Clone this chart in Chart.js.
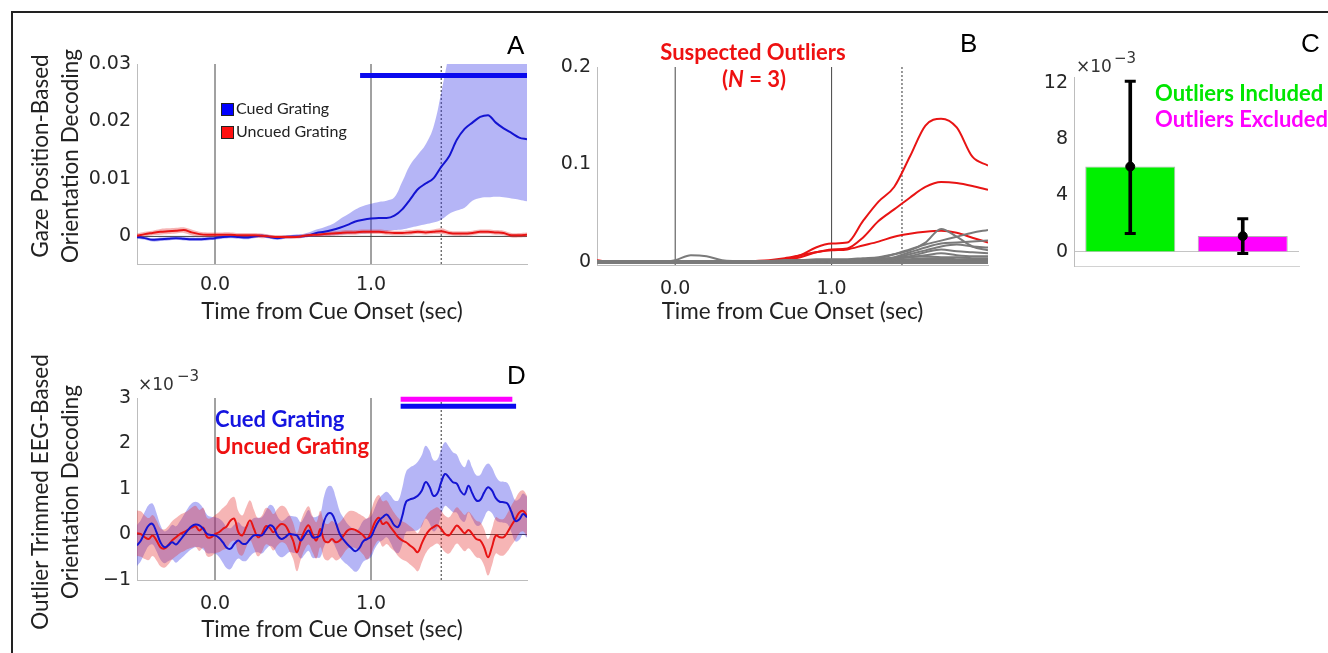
<!DOCTYPE html>
<html lang="en">
<head>
<meta charset="UTF-8" />
<title>Gaze and EEG orientation decoding</title>
<script src="https://cdn.jsdelivr.net/npm/chart.js@4.4.1/dist/chart.umd.min.js"></script>
<style>
  body { margin: 0; background: #fff; width: 1328px; height: 653px; overflow: hidden; position: relative; font-family: Lato, sans-serif; }
  .frame { position: absolute; left: 11px; top: 11px; width: 1330px; height: 660px; border: 2px solid #222; }
  canvas { position: absolute; }
  .txt { position: absolute; white-space: nowrap; line-height: 1; }
  .letter { font-family: 'Liberation Sans', Arial, sans-serif; font-size: 26px; color: #000; }
  .exp { font-family: 'DejaVu Sans', sans-serif; color: #333; }
  .bold { font-weight: 700; font-size: 22px; }
  .sq { position: absolute; width: 11px; height: 11px; border: 1px solid #222; }
  .small { font-size: 16px; color: #222; }
  .ytitle { position: absolute; width: 320px; height: 60px; line-height: 30px; text-align: center;
            font-size: 22.5px; color: #222; white-space: nowrap; transform: rotate(-90deg); }
</style>
</head>
<body>
<div class="frame"></div>

<canvas id="chartA" width="520" height="300" style="left:20px;top:30px"></canvas>
<canvas id="chartB" width="470" height="300" style="left:540px;top:30px"></canvas>
<canvas id="chartC" width="318" height="300" style="left:1010px;top:30px"></canvas>
<canvas id="chartD" width="520" height="293" style="left:20px;top:360px"></canvas>

<!-- y axis titles (two lines, rotated) -->
<div class="ytitle" style="left:-105px;top:126px">Gaze Position-Based<br>Orientation Decoding</div>
<div class="ytitle" style="left:-105px;top:462px">Outlier Trimmed EEG-Based<br>Orientation Decoding</div>

<!-- panel letters -->
<div class="txt letter" style="left:507px;top:32px">A</div>
<div class="txt letter" style="left:960px;top:30px">B</div>
<div class="txt letter" style="left:1301px;top:30px">C</div>
<div class="txt letter" style="left:507px;top:362px">D</div>

<!-- A legend -->
<div class="sq" style="left:221px;top:103px;background:#0000ff"></div>
<div class="txt small" style="left:236px;top:100px">Cued Grating</div>
<div class="sq" style="left:221px;top:126px;background:#ff1010"></div>
<div class="txt small" style="left:236px;top:123px">Uncued Grating</div>

<!-- B title -->
<div class="txt bold" style="left:653px;width:200px;text-align:center;top:41px;color:#ee1111">Suspected Outliers</div>
<div class="txt bold" style="left:654px;width:200px;text-align:center;top:68px;color:#ee1111">(<i>N</i> = 3)</div>

<!-- C exponent + legend -->
<div class="txt exp" style="left:1076px;top:58px;font-size:17px">&times;10</div>
<div class="txt exp" style="left:1114px;top:51px;font-size:15px">&minus;3</div>
<div class="txt bold" style="left:1155px;top:82px;color:#00e600">Outliers Included</div>
<div class="txt bold" style="left:1155px;top:108px;color:#ff00ff">Outliers Excluded</div>

<!-- D exponent + legend -->
<div class="txt exp" style="left:138px;top:376px;font-size:17px">&times;10</div>
<div class="txt exp" style="left:177px;top:369px;font-size:15px">&minus;3</div>
<div class="txt bold" style="left:215px;top:408px;color:#1414e0">Cued Grating</div>
<div class="txt bold" style="left:215px;top:435px;color:#ee1111">Uncued Grating</div>

<script>
// ---------- shared time axis ----------
const xRange = [-0.5, 2.0];
const xTickVals = [0, 1];
const cueLines = [0, 1];
const probeTime = 1.45;
const xTitle = 'Time from Cue Onset (sec)';

// ---------- A: gaze position based decoding ----------
const timeA = [-0.5,-0.45,-0.4,-0.35,-0.3,-0.25,-0.2,-0.15,-0.1,-0.05,0,0.05,0.1,0.15,0.2,0.25,0.3,0.35,0.4,0.45,
  0.5,0.55,0.6,0.65,0.7,0.75,0.8,0.85,0.9,0.95,1,1.05,1.1,1.15,1.2,1.25,1.3,1.35,1.4,1.45,
  1.5,1.55,1.6,1.65,1.7,1.75,1.8,1.85,1.9,1.95,2];
const cuedA = [-0.0001,-0.0003,-0.0006,-0.0005,-0.0004,-0.0003,-0.0004,-0.0005,-0.0005,-0.0004,
  -0.0003,-0.0001,0,-0.0001,-0.0002,0,0.0001,-0.0001,-0.0003,-0.0001,
  0,0,0.0002,0.0006,0.0008,0.0011,0.0015,0.002,0.0026,0.0029,
  0.0031,0.0032,0.0032,0.0036,0.0047,0.0064,0.0082,0.0092,0.0101,0.0121,
  0.0139,0.0168,0.0187,0.0198,0.0208,0.0211,0.0198,0.0188,0.018,0.0172,0.0169];
const cuedAHi = [0.0002,0,-0.0003,-0.0002,-0.0001,0,-0.0001,-0.0002,-0.0002,-0.0001,
  0,0.0002,0.0003,0.0002,0.0001,0.0003,0.0004,0.0002,0,0.0002,
  0.0003,0.0004,0.0007,0.0012,0.0016,0.0021,0.003,0.0038,0.0047,0.0053,
  0.0057,0.006,0.0062,0.0068,0.0095,0.0124,0.0142,0.016,0.019,0.025,
  0.032,0.04,0.04,0.04,0.04,0.04,0.04,0.04,0.04,0.04,0.04];
const cuedALo = [-0.0004,-0.0006,-0.0009,-0.0008,-0.0007,-0.0006,-0.0007,-0.0008,-0.0008,-0.0007,
  -0.0006,-0.0004,-0.0003,-0.0004,-0.0005,-0.0003,-0.0002,-0.0004,-0.0006,-0.0004,
  -0.0003,-0.0002,-0.0001,0,0.0001,0.0002,0.0003,0.0004,0.0005,0.0005,
  0.0006,0.0007,0.0009,0.0011,0.0012,0.0015,0.0018,0.0021,0.0024,0.0029,
  0.0039,0.0045,0.005,0.0062,0.0067,0.0068,0.0069,0.0068,0.0066,0.0064,0.0061];
const uncuedA = [0.0001,0.0004,0.0006,0.0008,0.0009,0.001,0.0011,0.0007,0.0004,0.0003,
  0.0003,0.0003,0.0003,0.0002,0.0002,0.0002,0.0001,0,-0.0001,-0.0001,
  -0.0001,0,0.0002,0.0003,0.0004,0.0005,0.0006,0.0007,0.0007,0.0008,
  0.0008,0.0008,0.0007,0.0006,0.0006,0.0007,0.0008,0.0007,0.0008,0.0009,
  0.0006,0.0005,0.0005,0.0006,0.0008,0.0008,0.0007,0.0006,0.0002,0.0002,0.0003];
const uncuedAErr = [0.0004,0.0004,0.0004,0.0005,0.0005,0.0005,0.0005,0.0005,0.0004,0.0004,
  0.0004,0.0004,0.0004,0.0004,0.0004,0.0004,0.0004,0.0003,0.0003,0.0003,
  0.0003,0.0003,0.0003,0.0003,0.0004,0.0004,0.0004,0.0004,0.0004,0.0004,
  0.0004,0.0004,0.0004,0.0004,0.0004,0.0004,0.0004,0.0004,0.0004,0.0005,
  0.0004,0.0004,0.0004,0.0004,0.0004,0.0004,0.0004,0.0004,0.0004,0.0004,0.0004];
const sigA = [0.93, 2.0];
const sigAY = 0.028;
const yRangeA = [-0.0048, 0.03];
const yTicksA = [0, 0.01, 0.02, 0.03];
const yLabelsA = ['0', '0.01', '0.02', '0.03'];

// ---------- B: individual subjects ----------
const timeB = [-0.5,-0.4,-0.3,-0.2,-0.1,0,0.1,0.2,0.3,0.4,0.5,0.6,0.7,0.8,0.9,1,1.1,1.2,1.3,1.4,1.5,1.6,1.7,1.8,1.9,2];
const outlier1 = [0.002,0,0,0,0,0,0,0,0,0,0,0.001,0.003,0.007,0.015,0.019,0.02,0.042,0.062,0.077,0.108,0.14,0.147,0.138,0.108,0.099];
const outlier2 = [0,0,0,0,0,0,0,0,0,0,0,0.001,0.002,0.005,0.01,0.013,0.014,0.025,0.042,0.054,0.066,0.077,0.082,0.081,0.078,0.074];
const outlier3 = [0.001,0,0,0,0,0,0,0,0,0,0.001,0.002,0.004,0.007,0.01,0.012,0.013,0.017,0.021,0.026,0.029,0.031,0.032,0.03,0.025,0.02];
const others = [
  [0.001,0.001,0.001,0.001,0.001,0.001,0.001,0.001,0.001,0.001,0.001,0.001,0.002,0.002,0.003,0.003,0.003,0.004,0.005,0.008,0.012,0.02,0.034,0.026,0.016,0.012],
  [0,0,0,0,0,0,0,0,0,0,0,0,0,0.001,0.001,0.002,0.002,0.003,0.004,0.008,0.013,0.018,0.022,0.026,0.03,0.033],
  [0,0,0,0,0,0,0,0,0,0,0,0,0.001,0.001,0.001,0.002,0.002,0.002,0.003,0.005,0.01,0.015,0.019,0.02,0.021,0.022],
  [0,0,0,0,0,0,0,0,0,0,0,0,0,0,0.001,0.001,0.002,0.002,0.003,0.004,0.008,0.012,0.016,0.018,0.016,0.015],
  [0,0,0,0,0,0,0,0,0,0,0,0,0,0.001,0.001,0.002,0.002,0.002,0.003,0.004,0.006,0.01,0.013,0.011,0.01,0.009],
  [0,0,0,0,0,0.002,0.007,0.006,0.002,0.001,0,0,0,0,0,0.001,0.001,0.001,0.002,0.003,0.005,0.007,0.009,0.007,0.006,0.006],
  [0,0,0,0,0,0,0,0,0,0,0,0,0.001,0.001,0.001,0.002,0.002,0.003,0.003,0.004,0.005,0.006,0.005,0.005,0.004,0.004],
  [0.001,0,0,0,0,0,0,0,0,0,0,0,0,0,0,0.001,0.001,0.001,0.001,0.002,0.003,0.004,0.004,0.003,0.003,0.003],
  [0,0,0,0,0,0,0,0,0,0,0,0,0,0.001,0.002,0.002,0.001,0.001,0.001,0.001,0.002,0.002,0.002,0.002,0.002,0.002],
  [0,0,0,0,0,0,0,0,0,0,0,0,0,0,0,0,0,0,0,0.001,0.001,0.001,0.001,0.001,0.001,0.001],
  [-0.001,-0.001,-0.001,-0.001,-0.001,-0.001,-0.001,-0.001,-0.001,-0.001,-0.001,-0.001,-0.001,-0.001,-0.001,-0.001,-0.001,-0.001,-0.001,-0.001,-0.001,-0.001,-0.001,-0.001,-0.001,-0.001]
];
const yRangeB = [-0.003, 0.2];
const yTicksB = [0, 0.1, 0.2];
const yLabelsB = ['0', '0.1', '0.2'];

// ---------- C: mean decoding, outliers in / out (x 10^-3) ----------
const groupsC = ['Outliers Included', 'Outliers Excluded'];
const meanC = [6.05, 1.12];
const errLoC = [1.3, -0.12];
const errHiC = [12.1, 2.35];
const yRangeC = [-1, 12.4];
const yTicksC = [0, 4, 8, 12];

// ---------- D: outlier trimmed EEG decoding (x 10^-3) ----------
const timeD = [-0.5,-0.475,-0.45,-0.425,-0.4,-0.375,-0.35,-0.325,-0.3,-0.275,
  -0.25,-0.225,-0.2,-0.175,-0.15,-0.125,-0.1,-0.075,-0.05,-0.025,
  0,0.025,0.05,0.075,0.1,0.125,0.15,0.175,0.2,0.225,
  0.25,0.275,0.3,0.325,0.35,0.375,0.4,0.425,0.45,0.475,
  0.5,0.525,0.55,0.575,0.6,0.625,0.65,0.675,0.7,0.725,
  0.75,0.775,0.8,0.825,0.85,0.875,0.9,0.925,0.95,0.975,
  1,1.025,1.05,1.075,1.1,1.125,1.15,1.175,1.2,1.225,
  1.25,1.275,1.3,1.325,1.35,1.375,1.4,1.425,1.45,1.475,
  1.5,1.525,1.55,1.575,1.6,1.625,1.65,1.675,1.7,1.725,
  1.75,1.775,1.8,1.825,1.85,1.875,1.9,1.925,1.95,1.975,2];
const cuedD = [-0.24,-0.13,0.05,0.2,0.23,0.05,-0.17,-0.28,-0.24,-0.17,
  -0.22,-0.13,-0.02,0.09,0.18,0.22,0.2,0.12,0.01,-0.01,
  -0.02,-0.07,-0.17,-0.29,-0.31,-0.2,-0.13,-0.2,-0.2,-0.1,
  -0.02,-0.01,-0.02,0.09,0.2,0.16,-0.02,-0.1,-0.06,0.01,
  0,-0.02,-0.13,-0.02,0.09,-0.06,-0.06,-0.02,0.3,0.46,
  0.45,0.25,0.01,-0.12,-0.22,-0.3,-0.37,-0.3,-0.15,-0.1,
  -0.05,0.14,0.3,0.38,0.44,0.34,0.2,0.17,0.4,0.72,
  0.77,0.8,0.85,0.96,1.15,1.05,0.85,0.9,1.15,1.33,
  1.25,1.15,1.12,0.95,0.88,1.07,0.9,0.75,0.76,0.92,
  1.04,0.97,0.8,0.72,0.71,0.68,0.5,0.3,0.33,0.45,0.38];
const cuedDErr = [0.45,0.45,0.45,0.45,0.45,0.42,0.38,0.35,0.35,0.38,
  0.4,0.42,0.45,0.48,0.5,0.5,0.48,0.45,0.42,0.4,
  0.4,0.42,0.45,0.45,0.45,0.42,0.4,0.38,0.38,0.38,
  0.38,0.38,0.4,0.42,0.45,0.45,0.42,0.4,0.4,0.4,
  0.4,0.4,0.4,0.42,0.45,0.45,0.45,0.48,0.55,0.6,
  0.6,0.55,0.5,0.48,0.45,0.45,0.45,0.45,0.45,0.45,
  0.45,0.45,0.48,0.5,0.5,0.52,0.55,0.58,0.62,0.66,
  0.7,0.72,0.75,0.78,0.8,0.8,0.78,0.75,0.72,0.7,
  0.68,0.66,0.64,0.62,0.6,0.58,0.56,0.55,0.55,0.55,
  0.52,0.5,0.48,0.45,0.45,0.45,0.45,0.45,0.45,0.45,0.45];
const uncuedD = [0.03,0.01,-0.06,-0.1,-0.02,-0.13,-0.28,-0.31,-0.24,-0.13,
  -0.06,0.01,0.05,0.1,0.15,0.18,0.09,0.15,-0.06,-0.06,
  0.01,0.05,0.12,0.18,0.31,0.34,0.05,-0.02,0.16,0.31,
  0.12,-0.06,0.01,0.18,0.15,0.05,0.16,0.23,0.2,0.05,
  -0.13,-0.39,-0.13,0.09,0.2,0.01,-0.13,0.12,-0.13,-0.17,
  -0.1,-0.17,-0.13,-0.02,0.09,0.12,0.1,0.05,-0.02,-0.1,
  0.05,0.27,0.37,0.23,0.27,0.16,0.05,-0.06,-0.13,-0.17,
  -0.24,-0.31,-0.39,-0.2,-0.02,0.1,0.16,0.2,0.12,0.01,
  -0.02,0.09,0.2,0.12,0.03,0.1,0.01,-0.1,-0.13,-0.28,
  -0.5,-0.28,-0.02,-0.06,-0.06,0.05,0.2,0.33,0.48,0.52,0.4];
const uncuedDErr = [0.5,0.5,0.48,0.46,0.45,0.44,0.42,0.42,0.42,0.42,
  0.42,0.42,0.42,0.42,0.44,0.45,0.45,0.44,0.42,0.42,
  0.42,0.44,0.46,0.48,0.48,0.48,0.46,0.44,0.44,0.44,
  0.42,0.42,0.4,0.4,0.4,0.4,0.4,0.4,0.4,0.4,
  0.4,0.42,0.42,0.42,0.42,0.4,0.4,0.4,0.4,0.4,
  0.4,0.4,0.4,0.4,0.4,0.4,0.4,0.4,0.42,0.45,
  0.48,0.5,0.5,0.5,0.48,0.45,0.42,0.42,0.42,0.42,
  0.42,0.42,0.42,0.42,0.4,0.4,0.4,0.4,0.4,0.4,
  0.4,0.4,0.4,0.4,0.4,0.4,0.4,0.4,0.4,0.4,
  0.4,0.4,0.4,0.4,0.4,0.42,0.44,0.45,0.45,0.45,0.45];
const sigDExcl = [1.19, 1.906];
const sigDExclY = 2.97;
const sigDCued = [1.19, 1.93];
const sigDCuedY = 2.82;
const yRangeD = [-1, 3];
const yTicksD = [-1, 0, 1, 2, 3];
const yLabelsD = ['\u22121', '0', '1', '2', '3'];

// ---------- styling ----------
const BLUE = '#1414d2';
const RED = '#e81414';
const GRAY = '#7a7a7a';
const REF = '#444';
const axisGray = '#bdbdbd';
const blueBand = 'rgba(50,50,230,0.36)';
const redBand = 'rgba(230,50,50,0.36)';
const tickFont = { family: 'DejaVu Sans', size: 19 };
const titleFont = { family: 'Lato', size: 22.5, lineHeight: 1.333 };

Chart.defaults.color = '#262626';
Chart.defaults.animation = false;
Chart.defaults.plugins.legend.display = false;
Chart.defaults.plugins.tooltip.enabled = false;

const xy = (xs, ys) => xs.map((x, i) => ({ x: x, y: ys[i] }));
const plus = (a, b) => a.map((v, i) => v + b[i]);
const minus = (a, b) => a.map((v, i) => v - b[i]);

function line(xs, ys, color, width, tension) {
  return { data: xy(xs, ys), borderColor: color, borderWidth: width, pointRadius: 0, fill: false,
           tension: tension, cubicInterpolationMode: tension ? 'default' : 'monotone' };
}
function band(xs, hi, lo, color, tension) {
  return [
    { data: xy(xs, hi), borderWidth: 0, pointRadius: 0, fill: '+1', backgroundColor: color, tension: tension },
    { data: xy(xs, lo), borderWidth: 0, pointRadius: 0, fill: false, tension: tension }
  ];
}
function seg(x0, x1, y0, y1, color, width, dash) {
  return { data: [{ x: x0, y: y0 }, { x: x1, y: y1 }], borderColor: color, borderWidth: width,
           borderDash: dash || [], pointRadius: 0, fill: false, clip: false };
}
function refLines(yr) {
  return [
    seg(cueLines[0], cueLines[0], yr[0], yr[1], REF, 1),
    seg(cueLines[1], cueLines[1], yr[0], yr[1], REF, 1),
    seg(probeTime, probeTime, yr[0], yr[1], '#333', 1, [2, 2])
  ];
}

function timeAxis(height, tickPad, titlePad) {
  return {
    type: 'linear', min: xRange[0], max: xRange[1],
    grid: { display: false, drawTicks: false },
    border: { display: true, color: axisGray },
    afterBuildTicks: s => { s.ticks = xTickVals.map(v => ({ value: v })); },
    afterFit: s => { s.height = height; },
    ticks: { padding: tickPad, font: tickFont, maxRotation: 0, callback: v => v.toFixed(1) },
    title: { display: true, text: xTitle, font: titleFont, color: '#222', padding: { top: 0, bottom: titlePad } }
  };
}
function valueAxis(range, vals, labels, width) {
  return {
    type: 'linear', min: range[0], max: range[1],
    grid: { display: false, drawTicks: false },
    border: { display: true, color: axisGray },
    afterBuildTicks: s => { s.ticks = vals.map(v => ({ value: v })); },
    afterFit: s => { s.width = width; },
    ticks: { padding: 6, font: tickFont, callback: v => labels[vals.indexOf(v)] }
  };
}
const baseOptions = (pad, scales) => ({
  responsive: false, devicePixelRatio: 1,
  layout: { padding: pad },
  elements: { line: { borderCapStyle: 'butt' } },
  scales: scales
});

// ---------- A ----------
new Chart(document.getElementById('chartA'), {
  type: 'line',
  data: {
    datasets: [
      seg(sigA[0], sigA[1], sigAY, sigAY, '#0a0aee', 5),
      line(timeA, uncuedA, RED, 2, 0),
      line(timeA, cuedA, BLUE, 2, 0),
      ...band(timeA, plus(uncuedA, uncuedAErr), minus(uncuedA, uncuedAErr), redBand, 0.4),
      ...band(timeA, cuedAHi, cuedALo, blueBand, 0.4),
      seg(xRange[0], xRange[1], 0, 0, REF, 1),
      ...refLines(yRangeA)
    ]
  },
  options: baseOptions({ left: 0, top: 34, right: 13, bottom: 0 }, {
    x: timeAxis(66, 10, 3),
    y: valueAxis(yRangeA, yTicksA, yLabelsA, 117)
  })
});

// ---------- B ----------
new Chart(document.getElementById('chartB'), {
  type: 'line',
  data: {
    datasets: [
      ...others.map(s => line(timeB, s, GRAY, 2, 0)),
      line(timeB, outlier3, RED, 2, 0),
      line(timeB, outlier2, RED, 2, 0),
      line(timeB, outlier1, RED, 2, 0),
      ...refLines(yRangeB)
    ]
  },
  options: baseOptions({ left: 0, top: 37, right: 22, bottom: 0 }, {
    x: timeAxis(65, 13, 3),
    y: valueAxis(yRangeB, yTicksB, yLabelsB, 57)
  })
});

// ---------- C ----------
new Chart(document.getElementById('chartC'), {
  type: 'bar',
  data: {
    labels: groupsC,
    datasets: [
      { type: 'line', data: meanC, showLine: false, pointRadius: 4.5, pointBackgroundColor: '#000', pointBorderColor: '#000' },
      { type: 'line', data: errHiC, showLine: false, pointStyle: 'line', pointRadius: 5.5, pointBorderWidth: 3, pointBorderColor: '#000' },
      { type: 'line', data: errLoC, showLine: false, pointStyle: 'line', pointRadius: 5.5, pointBorderWidth: 3, pointBorderColor: '#000' },
      { data: errLoC.map((lo, i) => [lo, errHiC[i]]), backgroundColor: '#000', barThickness: 3, grouped: false },
      { data: meanC, backgroundColor: ['#00f000', '#ff00ff'], borderColor: 'rgba(0,0,0,0.3)', borderWidth: 1,
        barPercentage: 0.8, categoryPercentage: 1, grouped: false }
    ]
  },
  options: baseOptions({ left: 0, top: 47, right: 29, bottom: 0 }, {
    x: {
      grid: { display: false, drawTicks: false },
      border: { display: true, color: '#d2d2d2' },
      ticks: { display: false },
      afterFit: s => { s.height = 64; }
    },
    y: {
      min: yRangeC[0], max: yRangeC[1],
      grid: { display: true, drawTicks: false, color: c => (c.tick && c.tick.value === 0 ? '#c4c4c4' : 'rgba(0,0,0,0)') },
      border: { display: true, color: axisGray },
      afterBuildTicks: s => { s.ticks = yTicksC.map(v => ({ value: v })); },
      afterFit: s => { s.width = 64; },
      ticks: { padding: 6, font: tickFont, callback: v => String(v) }
    }
  })
});

// ---------- D ----------
new Chart(document.getElementById('chartD'), {
  type: 'line',
  data: {
    datasets: [
      seg(sigDExcl[0], sigDExcl[1], sigDExclY, sigDExclY, '#ff00ff', 5),
      seg(sigDCued[0], sigDCued[1], sigDCuedY, sigDCuedY, '#0a0aee', 5),
      line(timeD, cuedD, BLUE, 2, 0.4),
      line(timeD, uncuedD, RED, 2, 0.4),
      ...band(timeD, plus(uncuedD, uncuedDErr), minus(uncuedD, uncuedDErr), redBand, 0.4),
      ...band(timeD, plus(cuedD, cuedDErr), minus(cuedD, cuedDErr), blueBand, 0.4),
      seg(xRange[0], xRange[1], 0, 0, REF, 1),
      ...refLines(yRangeD)
    ]
  },
  options: baseOptions({ left: 0, top: 38, right: 13, bottom: 0 }, {
    x: timeAxis(73, 13, 8),
    y: valueAxis(yRangeD, yTicksD, yLabelsD, 117)
  })
});
</script>
</body>
</html>
